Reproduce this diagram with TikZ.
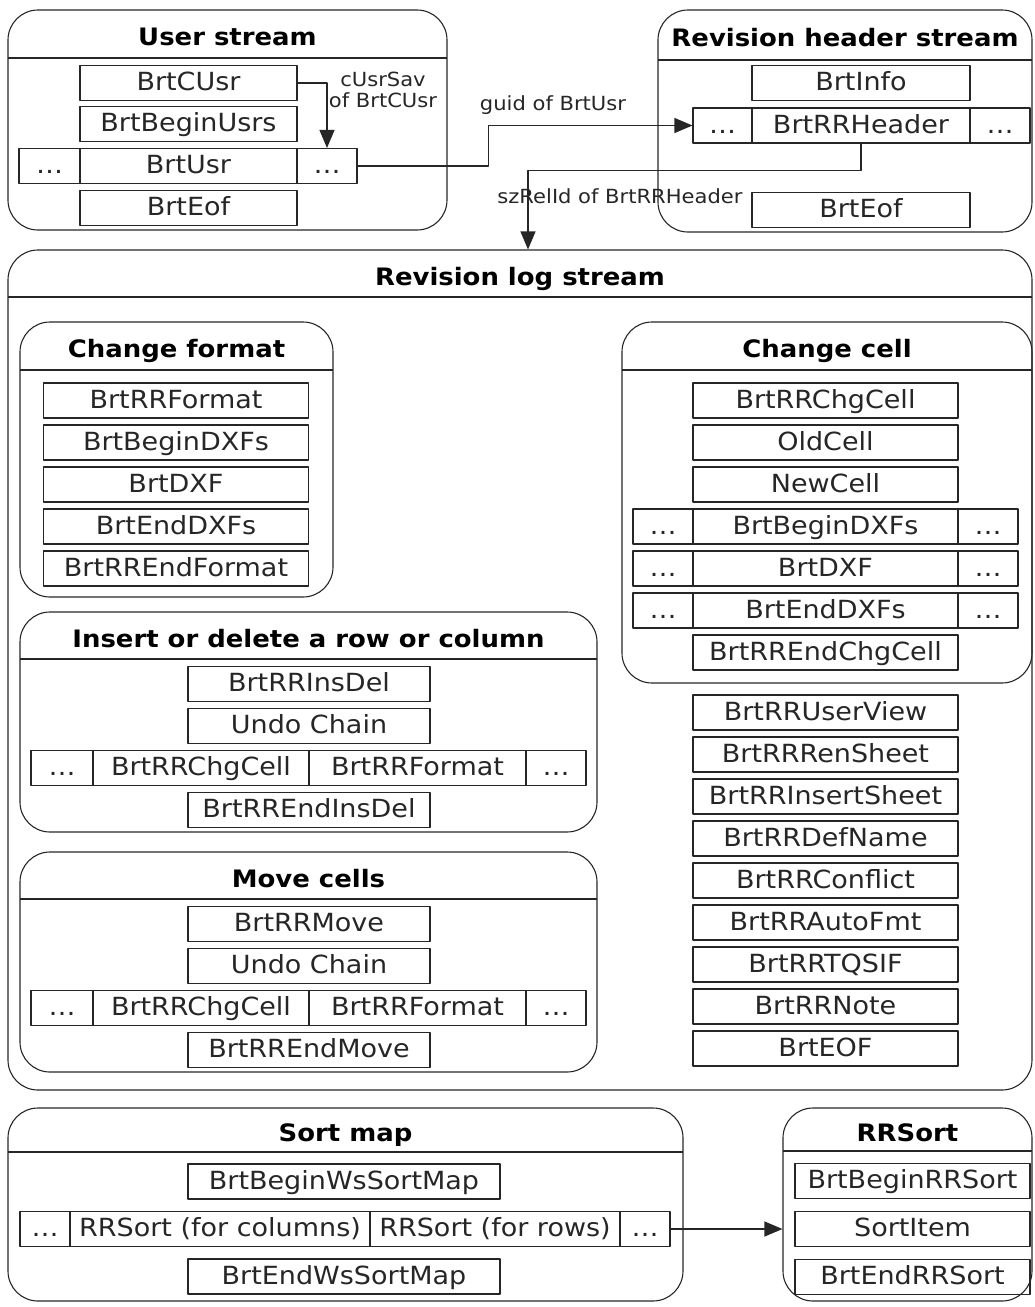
\documentclass[tikz,border=0pt]{standalone}
\usepackage{fontspec}
\setmainfont{DejaVu Sans}[FakeStretch=1.08]
\usetikzlibrary{arrows.meta}
\begin{document}
\begin{tikzpicture}[x=1pt, y=-1pt, line join=round, >={Triangle[length=18pt,width=15pt]},
  rec/.style={draw=black!85, line width=1.1pt, minimum height=35pt, inner sep=0pt, text=black!85, text height=20pt, text depth=5pt, font=\fontsize{25}{30}\selectfont},
  grp/.style={draw=black!85, line width=1.1pt, rounded corners=30pt, inner sep=0pt},
  ttl/.style={inner sep=0pt, text height=17.5pt, text depth=0pt, font=\fontsize{24}{28}\selectfont\bfseries},
  lbl/.style={inner sep=0pt, align=center, text=black!85, font=\fontsize{19.5}{21}\selectfont},
  con/.style={draw=black!85, line width=1.1pt}]
\useasboundingbox (0,0) rectangle (1035,1307);
% streams and groups
\foreach \n/\xa/\ya/\xb/\yb/\yl/\t in {us/8/10/447/230/58/User stream, hs/658/10/1032/232/60/Revision header stream, ls/8/250/1032/1090/297/Revision log stream, cf/20/322/333/597/370/Change format, cc/622/322/1032/683/370/Change cell, id/20/612/597/832/659/Insert or delete a row or column, mc/20/852/597/1072/899/Move cells, sm/8/1108/683/1301/1152/Sort map, rs/783/1108/1032/1301/1151/RRSort}
{
  \node[grp, minimum width={(\xb-\xa)*1pt}, minimum height={(\yb-\ya)*1pt}] (\n) at ({(\xa+\xb)/2},{(\ya+\yb)/2}) {};
  \draw[con] (\xa,\yl) -- (\xb,\yl);
  \node[ttl] (\n-t) at ({(\xa+\xb)/2},{(\ya+\yl)/2+3}) {\t};
}
% user stream
\foreach \n/\x/\y/\w/\t in {cusr/188.5/83/217/BrtCUsr, busr/188.5/124/217/BrtBeginUsrs, usr/188.5/166/217/BrtUsr, usrl/49.5/166/61/\ldots, usrr/327/166/60/\ldots, ueof/188.5/208/217/BrtEof}
  \node[rec, minimum width=\w pt] (\n) at (\x,\y) {\t};
% revision header stream
\foreach \n/\x/\y/\w/\t in {info/861/83/218/BrtInfo, rrh/861/125.5/218/BrtRRHeader, rrhl/722.5/125.5/59/\ldots, rrhr/1000/125.5/60/\ldots, heof/861/210/218/BrtEof}
  \node[rec, minimum width=\w pt] (\n) at (\x,\y) {\t};
% change format
\foreach \t [count=\i] in {BrtRRFormat, BrtBeginDXFs, BrtDXF, BrtEndDXFs, BrtRREndFormat}
  \node[rec, minimum width=265pt] (cf\i) at (176,358.5+42*\i) {\t};
% change cell
\foreach \t [count=\i] in {BrtRRChgCell, OldCell, NewCell, BrtBeginDXFs, BrtDXF, BrtEndDXFs, BrtRREndChgCell}
  \node[rec, minimum width=265pt] (cc\i) at (825.5,358.5+42*\i) {\t};
\foreach \i in {4,5,6} {
  \node[rec, minimum width=60pt] (cc\i l) at (663,358.5+42*\i) {\ldots};
  \node[rec, minimum width=60pt] (cc\i r) at (988,358.5+42*\i) {\ldots};
}
% other records
\foreach \t [count=\i] in {BrtRRUserView, BrtRRRenSheet, BrtRRInsertSheet, BrtRRDefName, BrtRRConflict, BrtRRAutoFmt, BrtRRTQSIF, BrtRRNote, BrtEOF}
  \node[rec, minimum width=265pt] (lr\i) at (825.5,670.5+42*\i) {\t};
% insert/delete and move
\foreach \s/\dy/\a/\b in {id/0/BrtRRInsDel/BrtRREndInsDel, mc/240/BrtRRMove/BrtRREndMove} {
  \node[rec, minimum width=242pt] (\s1) at (309,684+\dy) {\a};
  \node[rec, minimum width=242pt] (\s2) at (309,726+\dy) {Undo Chain};
  \node[rec, minimum width=62pt] (\s l) at (62,768+\dy) {\ldots};
  \node[rec, minimum width=216pt] (\s c) at (201,768+\dy) {BrtRRChgCell};
  \node[rec, minimum width=217pt] (\s f) at (417.5,768+\dy) {BrtRRFormat};
  \node[rec, minimum width=60pt] (\s r) at (556,768+\dy) {\ldots};
  \node[rec, minimum width=242pt] (\s3) at (309,810+\dy) {\b};
}
% sort map
\node[rec, minimum width=312pt] (sm1) at (344,1181.5) {BrtBeginWsSortMap};
\node[rec, minimum width=50pt] (sml) at (45,1229) {\ldots};
\node[rec, minimum width=300pt] (smc) at (220,1229) {RRSort (for columns)};
\node[rec, minimum width=250pt] (smw) at (495,1229) {RRSort (for rows)};
\node[rec, minimum width=50pt] (smr) at (645,1229) {\ldots};
\node[rec, minimum width=312pt] (sm2) at (344,1276.5) {BrtEndWsSortMap};
% rrsort
\foreach \t [count=\i] in {BrtBeginRRSort, SortItem, BrtEndRRSort}
  \node[rec, minimum width=235pt] (rs\i) at (912.5,1133+48*\i) {\t};
% links
\draw[con,->] (cusr.east) -| (usrr.north);
\draw[con,->] (usrr.east) -- ++(131,0) |- (rrhl.west);
\draw[con,->] (rrh.south) -- ++(0,27) -| ([xshift=8pt]ls.north);
\draw[con,->] (smr.east) -- (smr.east -| rs.west);
\node[lbl] (usav) at (383,90) {cUsrSav\\of BrtCUsr};
\node[lbl] (guid) at (553,105) {guid of BrtUsr};
\node[lbl] (szrel) at (620,196) {szRelId of BrtRRHeader};
\end{tikzpicture}
\end{document}
